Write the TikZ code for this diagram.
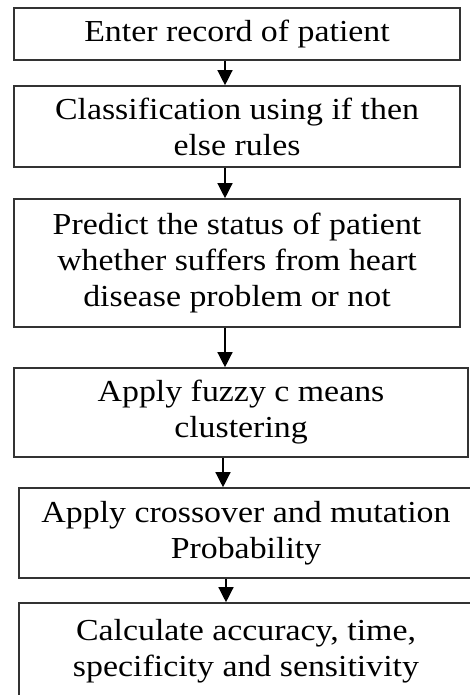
\documentclass[tikz,border=0pt]{standalone}
\usepackage{fontspec}
\setmainfont[FakeStretch=1.11]{Liberation Serif}
\usetikzlibrary{arrows.meta}

\definecolor{boxlinecolor}{rgb}{0.200000, 0.200000, 0.200000}
\tikzset{
  stepbox/.style={draw=boxlinecolor, line width=1.6pt, align=center, inner sep=0pt,
    font=\fontsize{30.5}{36}\selectfont},
  flow/.style={-{Triangle[width=15pt,length=15pt]}, line width=1.3pt, black}
}

\begin{document}
\begin{tikzpicture}[x=1pt,y=-1pt]
\useasboundingbox (0,0) rectangle (470,695);
% steps
\node[stepbox, minimum width=446pt, minimum height=52pt] (enter) at (237,34) {Enter record of patient};
\node[stepbox, minimum width=446pt, minimum height=81pt] (classify) at (237,126.5) {Classification using if then\\else rules};
\node[stepbox, minimum width=446pt, minimum height=128pt] (predict) at (237,263) {Predict the status of patient\\whether suffers from heart\\disease problem or not};
\node[stepbox, minimum width=454pt, minimum height=89pt] (fuzzy) at (241,412.5) {Apply fuzzy c means\\clustering};
\node[stepbox, minimum width=454pt, minimum height=90pt] (crossover) at (246,533) {Apply crossover and mutation\\Probability};
\node[stepbox, minimum width=454pt, minimum height=97pt] (calc) at (246,651.5) {Calculate accuracy, time,\\specificity and sensitivity};
% connectors
\draw[flow] ([xshift=-12pt]enter.south) -- ([xshift=-12pt]classify.north);
\draw[flow] ([xshift=-12pt]classify.south) -- ([xshift=-12pt]predict.north);
\draw[flow] ([xshift=-12pt]predict.south) -- ([xshift=-16pt]fuzzy.north);
\draw[flow] ([xshift=-18pt]fuzzy.south) -- ([xshift=-23pt]crossover.north);
\draw[flow] ([xshift=-20pt]crossover.south) -- ([xshift=-20pt]calc.north);
\end{tikzpicture}
\end{document}
